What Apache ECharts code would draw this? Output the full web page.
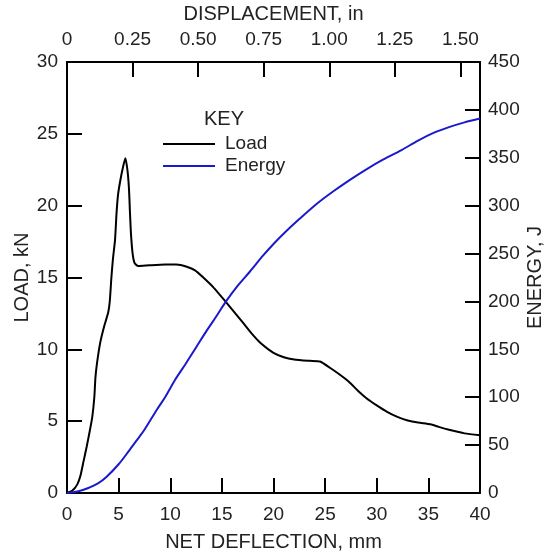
<!DOCTYPE html>
<html>
<head>
<meta charset="utf-8">
<script src="https://cdn.jsdelivr.net/npm/echarts@6/dist/echarts.min.js"></script>
<style>
  html, body { margin: 0; padding: 0; background: #fff; }
  #chart { width: 545px; height: 552px; }
</style>
</head>
<body>
<div id="chart"></div>
<script>
// net deflection (mm) vs load (kN)
var loadCurve = [
  [0, 0], [0.5, 0.15], [1.0, 0.6], [1.3, 1.2], [1.6, 2.2], [1.9, 3.2], [2.2, 4.3],
  [2.45, 5.3], [2.65, 6.7], [2.75, 8], [2.9, 9], [3.2, 10.4], [3.6, 11.6], [4.0, 12.6],
  [4.15, 13.4], [4.3, 15], [4.45, 16.3], [4.65, 17.6], [4.8, 19.5], [4.95, 20.8],
  [5.15, 21.7], [5.4, 22.6], [5.65, 23.3], [5.85, 22.5], [6.0, 21.2], [6.1, 19.5],
  [6.2, 18.0], [6.35, 16.7], [6.55, 16.0], [6.9, 15.8], [8, 15.85], [9.5, 15.9],
  [10.6, 15.9], [11.6, 15.75], [12.4, 15.5], [13.2, 15.0], [14.2, 14.3], [15.5, 13.2],
  [16.3, 12.5], [17.1, 11.8], [18.0, 11.0], [18.8, 10.4], [20, 9.75], [21, 9.45],
  [22, 9.3], [23.5, 9.2], [24.5, 9.15], [25.5, 8.7], [26.5, 8.2], [27.3, 7.75],
  [28.2, 7.1], [29, 6.6], [30, 6.1], [31, 5.65], [32, 5.3], [33, 5.05], [34, 4.9],
  [35.2, 4.78], [36, 4.6], [37, 4.4], [38.5, 4.15], [40, 4.02]
];
// net deflection (mm) vs energy (J)
var energyCurve = [
  [0, 0], [1, 1.5], [2, 5], [3, 10], [3.84, 17], [5, 30], [6, 44], [6.75, 55],
  [7.5, 66], [8.7, 87], [9.5, 100], [10.46, 118], [11.5, 135], [12.5, 152],
  [13.5, 169], [14.5, 185], [15.4, 200], [16.5, 216], [17.7, 231], [19, 248],
  [20, 260], [21, 271], [22.5, 286], [24.2, 302], [25.8, 315], [27.4, 327],
  [29, 338], [30.6, 348], [32.4, 358], [34, 368], [35.5, 376], [37, 382],
  [38.5, 387], [40, 391]
];
var seriesNames = ['Load', 'Energy'];
var mmMax = 40;
var inMax = mmMax / 25.4;

var font = 'Liberation Sans, Arial, sans-serif';
var axisCommon = {
  axisLine: { onZero: false, lineStyle: { color: '#000', width: 2 } },
  axisTick: { inside: true, length: 15, lineStyle: { color: '#000', width: 2 } },
  axisLabel: { color: '#222', fontSize: 19, fontFamily: font },
  splitLine: { show: false },
  nameMoveOverlap: false,
  nameTextStyle: { color: '#222', fontSize: 20, fontFamily: font }
};

var chart = echarts.init(document.getElementById('chart'));
var option = {
  backgroundColor: '#fff',
  animation: false,
  grid: { left: 67, right: 65, top: 62, bottom: 59, outerBoundsMode: 'none' },
  graphic: [{
    type: 'text', left: 204, top: 109,
    style: { text: 'KEY', fontSize: 20, fontFamily: font, fill: '#222' }
  }],
  legend: {
    data: seriesNames,
    orient: 'vertical',
    left: 158, top: 129,
    icon: 'rect',
    itemWidth: 52, itemHeight: 2,
    itemGap: 2,
    textStyle: { fontSize: 19, fontFamily: font, color: '#222', lineHeight: 20, padding: [0, 0, 0, 5] }
  },
  xAxis: [
    Object.assign({}, axisCommon, {
      type: 'value', position: 'bottom', min: 0, max: mmMax, interval: 5,
      name: 'NET DEFLECTION, mm', nameLocation: 'middle', nameGap: 39,
      axisLabel: Object.assign({}, axisCommon.axisLabel, { margin: 12 })
    }),
    Object.assign({}, axisCommon, {
      type: 'value', position: 'top', min: 0, max: inMax, interval: 0.25,
      name: 'DISPLACEMENT, in', nameLocation: 'middle', nameGap: 38,
      axisLabel: Object.assign({}, axisCommon.axisLabel, {
        margin: 13, showMaxLabel: false,
        formatter: function (v) { return v === 0 ? '0' : v.toFixed(2); }
      })
    })
  ],
  yAxis: [
    Object.assign({}, axisCommon, {
      type: 'value', position: 'left', min: 0, max: 30, interval: 5,
      name: 'LOAD, kN', nameLocation: 'middle', nameGap: 35, nameRotate: 90,
      axisLabel: Object.assign({}, axisCommon.axisLabel, { margin: 9 })
    }),
    Object.assign({}, axisCommon, {
      type: 'value', position: 'right', min: 0, max: 450, interval: 50,
      name: 'ENERGY, J', nameLocation: 'middle', nameGap: 45, nameRotate: 90,
      axisLabel: Object.assign({}, axisCommon.axisLabel, { margin: 8 })
    })
  ],
  series: [
    {
      name: seriesNames[0], type: 'line', xAxisIndex: 0, yAxisIndex: 0,
      data: loadCurve, symbol: 'none', smooth: 0.2,
      itemStyle: { color: '#000' }, lineStyle: { color: '#000', width: 2 }
    },
    {
      name: seriesNames[1], type: 'line', xAxisIndex: 0, yAxisIndex: 1,
      data: energyCurve, symbol: 'none', smooth: 0.3,
      itemStyle: { color: '#1a1acc' }, lineStyle: { color: '#1a1acc', width: 2 }
    }
  ]
};
chart.setOption(option);
</script>
</body>
</html>
